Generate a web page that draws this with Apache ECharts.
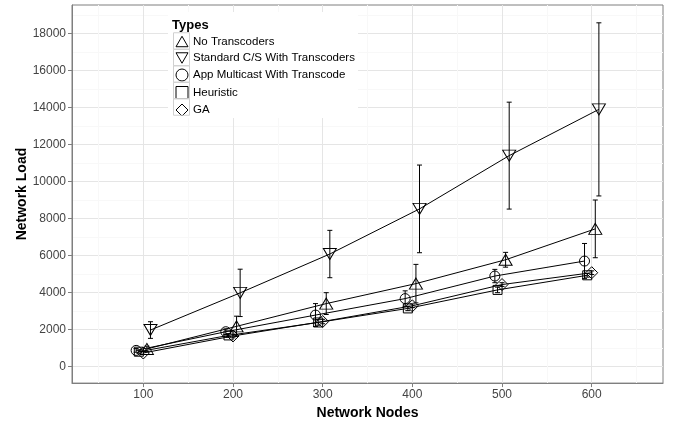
<!DOCTYPE html>
<html>
<head>
<meta charset="utf-8">
<script src="https://cdn.jsdelivr.net/npm/echarts@6.0.0/dist/echarts.min.js"></script>
<style>
  html, body { margin: 0; padding: 0; background: #fff; }
  #chart { width: 681px; height: 425px; }
</style>
</head>
<body>
<div id="chart"></div>
<script>
// data
const nodes = [100, 200, 300, 400, 500, 600];
const typeNames = ['No Transcoders', 'Standard C/S With Transcoders', 'App Multicast With Transcode', 'Heuristic', 'GA'];
const noTrans = [950, 2170, 3400, 4480, 5770, 7440];
const noTransErr = [150, 550, 590, 1040, 400, 1560];
const standard = [1970, 3980, 6080, 8520, 11400, 13900];
const standardErr = [450, 1280, 1280, 2370, 2890, 4680];
const appMulticast = [870, 1880, 2780, 3670, 4890, 5700];
const appMulticastErr = [100, 150, 620, 420, 360, 950];
const heuristic = [800, 1680, 2380, 3140, 4140, 4930];
const heuristicErr = [80, 100, 150, 120, 150, 100];
const ga = [730, 1650, 2430, 3280, 4430, 5070];
const gaErr = [80, 100, 120, 100, 100, 100];
const xTicks = [100, 200, 300, 400, 500, 600];
const xMinor = [50, 150, 250, 350, 450, 550, 650];
const yTicks = [0, 2000, 4000, 6000, 8000, 10000, 12000, 14000, 16000, 18000];
const yMinor = [1000, 3000, 5000, 7000, 9000, 11000, 13000, 15000, 17000, 19000];

const values = [noTrans, standard, appMulticast, heuristic, ga];
const errors = [noTransErr, standardErr, appMulticastErr, heuristicErr, gaErr];

// position_dodge offsets and shapes per type
const dodge = [4, 8, -8, -5, 0];
const shapes = ['triangle', 'triangle', 'circle', 'rect', 'diamond'];
const rotates = [0, 180, 0, 0, 0];
const sizes = [[13, 11], [13, 11], 10, 9, 12];
const legendIcons = ['path://M5,0 L10,8.7 L0,8.7 Z', 'path://M0,0 L10,0 L5,8.7 Z', 'circle', 'path://M0,0 L10,0 L10,10 L0,10 Z', 'diamond'];

const chart = echarts.init(document.getElementById('chart'));

const series = [];
typeNames.forEach((name, k) => {
  series.push({
    name: name,
    type: 'line',
    data: nodes.map((n, i) => [n + dodge[k], values[k][i]]),
    symbol: shapes[k],
    symbolRotate: rotates[k],
    symbolSize: sizes[k],
    lineStyle: { color: '#000', width: 1 },
    itemStyle: { color: 'rgba(0,0,0,0)', borderColor: '#000', borderWidth: 1 },
    emphasis: { disabled: true },
    animation: false,
    z: 3
  });
  series.push({
    name: name,
    type: 'custom',
    data: nodes.map((n, i) => [n + dodge[k], values[k][i] - errors[k][i], values[k][i] + errors[k][i]]),
    encode: { x: 0, y: [1, 2] },
    renderItem: function (params, api) {
      const lo = api.coord([api.value(0), api.value(1)]);
      const hi = api.coord([api.value(0), api.value(2)]);
      const w = 2.5;
      const st = { stroke: '#000', lineWidth: 1 };
      return {
        type: 'group',
        children: [
          { type: 'line', shape: { x1: lo[0], y1: lo[1], x2: hi[0], y2: hi[1] }, style: st },
          { type: 'line', shape: { x1: lo[0] - w, y1: lo[1], x2: lo[0] + w, y2: lo[1] }, style: st },
          { type: 'line', shape: { x1: hi[0] - w, y1: hi[1], x2: hi[0] + w, y2: hi[1] }, style: st }
        ]
      };
    },
    animation: false,
    z: 2
  });
});

const legendTop = 35.5;
const keyRects = typeNames.map((n, i) => ({
  type: 'rect',
  shape: { x: 173.5, y: legendTop - 2.75 + i * 16.5, width: 16, height: 16.5 },
  style: { fill: 'none', stroke: '#d0d0d0', lineWidth: 1 },
  z: 5
}));

const option = {
  backgroundColor: '#fff',
  textStyle: { fontFamily: 'Liberation Sans, Arial, sans-serif' },
  grid: {
    left: 72, right: 18, top: 5, bottom: 40,
    show: true, borderColor: '#7f7f7f', borderWidth: 1, backgroundColor: '#fff'
  },
  legend: {
    orient: 'vertical',
    left: 175.5, top: legendTop,
    padding: 0,
    itemWidth: 12, itemHeight: 12, itemGap: 4.5,
    data: typeNames.map((n, i) => ({ name: n, icon: legendIcons[i] })),
    itemStyle: { color: 'rgba(0,0,0,0)', borderColor: '#000', borderWidth: 1 },
    textStyle: { fontSize: 11.5, color: '#000', fontFamily: 'Liberation Sans, Arial, sans-serif', padding: [0, 0, 0, 0] },
    selectedMode: false,
    z: 4
  },
  graphic: [
    { type: 'rect', shape: { x: 168, y: 12, width: 190, height: 106 }, style: { fill: '#fff' }, z: 3 },
    { type: 'text', x: 172, y: 25, style: { text: 'Types', fontSize: 13, fontWeight: 'bold', fill: '#000', verticalAlign: 'middle', fontFamily: 'Liberation Sans, Arial, sans-serif' }, z: 4 }
  ].concat(keyRects),
  xAxis: [{
    type: 'value',
    min: 20.5, max: 679.5,
    name: 'Network Nodes',
    nameLocation: 'middle',
    nameGap: 19,
    nameTextStyle: { fontSize: 14, fontWeight: 'bold', color: '#000' },
    axisLine: { show: true, onZero: false, lineStyle: { color: '#7f7f7f' } },
    axisTick: { show: true, customValues: xTicks, length: 4, lineStyle: { color: '#7f7f7f' } },
    axisLabel: { customValues: xTicks, margin: 6, fontSize: 12, color: '#444', formatter: v => String(v) },
    splitLine: { show: true, lineStyle: { color: '#e5e5e5', width: 1 } }
  }, {
    type: 'value',
    position: 'top',
    min: 20.5, max: 679.5,
    axisLine: { show: false },
    axisTick: { show: false, customValues: xMinor },
    axisLabel: { show: false, customValues: xMinor },
    splitLine: { show: true, lineStyle: { color: '#f8f8f8', width: 1 } }
  }],
  yAxis: [{
    type: 'value',
    min: -898, max: 19543,
    name: 'Network Load',
    nameLocation: 'middle',
    nameGap: 43,
    nameMoveOverlap: false,
    nameTextStyle: { fontSize: 14, fontWeight: 'bold', color: '#000' },
    axisLine: { show: true, onZero: false, lineStyle: { color: '#7f7f7f' } },
    axisTick: { show: true, customValues: yTicks, length: 4, lineStyle: { color: '#7f7f7f' } },
    axisLabel: { customValues: yTicks, margin: 6, fontSize: 12, color: '#444', formatter: v => String(v) },
    splitLine: { show: true, lineStyle: { color: '#e5e5e5', width: 1 } }
  }, {
    type: 'value',
    position: 'right',
    min: -898, max: 19543,
    axisLine: { show: false },
    axisTick: { show: false, customValues: yMinor },
    axisLabel: { show: false, customValues: yMinor },
    splitLine: { show: true, lineStyle: { color: '#f8f8f8', width: 1 } }
  }],
  series: series
};

chart.setOption(option);
</script>
</body>
</html>
